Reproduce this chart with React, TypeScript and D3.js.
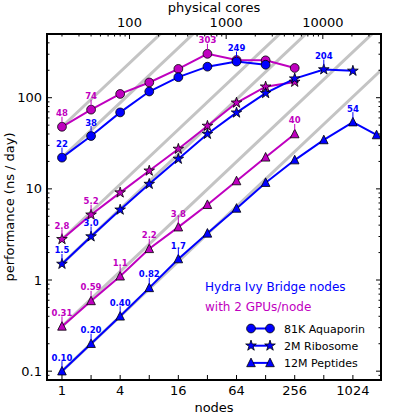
import React from "react";
import * as d3 from "d3";

// ---------- data ----------
const aqBlueNodes = [1, 2, 4, 8, 16, 32, 64, 128];
const aqBlueVals = [22, 38, 69, 117, 168, 219, 249, 230];
const aqMagNodes = [1, 2, 4, 8, 16, 32, 64, 128, 256];
const aqMagVals = [48, 74, 110, 147, 207, 303, 259, 257, 212];

const ribBlueNodes = [1, 2, 4, 8, 16, 32, 64, 128, 256, 512, 1024];
const ribBlueVals = [1.5, 3.0, 5.9, 11.3, 21.3, 40, 68.5, 112, 162, 204, 197];
const ribMagNodes = [1, 2, 4, 8, 16, 32, 64, 128, 256];
const ribMagVals = [2.8, 5.2, 9.1, 15.8, 27.4, 49, 88, 132, 149];

const pepBlueNodes = [1, 2, 4, 8, 16, 32, 64, 128, 256, 512, 1024, 1800];
const pepBlueVals = [0.1, 0.2, 0.4, 0.82, 1.7, 3.25, 6.1, 11.7, 20.7, 34.4, 54, 39];
const pepMagNodes = [1, 2, 4, 8, 16, 32, 64, 128, 256];
const pepMagVals = [0.31, 0.59, 1.1, 2.2, 3.8, 6.7, 12.2, 22.2, 40];

// annotated points: node index -> label text
const aqBlueLabels = [[0, "22"], [1, "38"], [6, "249"]];
const aqMagLabels = [[0, "48"], [1, "74"], [5, "303"]];
const ribBlueLabels = [[0, "1.5"], [1, "3.0"], [9, "204"]];
const ribMagLabels = [[0, "2.8"], [1, "5.2"]];
const pepBlueLabels = [[0, "0.10"], [1, "0.20"], [2, "0.40"], [3, "0.82"], [4, "1.7"], [10, "54"]];
const pepMagLabels = [[0, "0.31"], [1, "0.59"], [2, "1.1"], [3, "2.2"], [4, "3.8"], [8, "40"]];

const xTickVals = [1, 2, 4, 8, 16, 32, 64, 128, 256, 512, 1024];
const xTickLabels = ["1", "", "4", "", "16", "", "64", "", "256", "", "1024"];
const yTickVals = [0.1, 1, 10, 100];
const yTickLabels = ["0.1", "1", "10", "100"];
const topTickVals = [100, 1000, 10000];
const topTickLabels = ["100", "1000", "10000"];
const coresPerNode = 20;

const legendNames = ["81K Aquaporin", "2M Ribosome", "12M Peptides"];

const BLUE = "#0000ff";
const MAG = "#bf00bf";
const FONT = "DejaVu Sans";

// ---------- layout ----------
const L = 47, R = 381, T = 34, B = 380;
const x = d3.scaleLog().base(2).domain([0.7, 2000]).range([L, R]);
const y = d3.scaleLog().domain([0.08, 500]).range([B, T]);
const xTop = d3.scaleLog().domain([0.7 * coresPerNode, 2000 * coresPerNode]).range([L, R]);

function starPath(r: number) {
  const ri = r * 0.381966;
  const pts: [number, number][] = [];
  for (let i = 0; i < 10; i++) {
    const a = -Math.PI / 2 + (i * Math.PI) / 5;
    const rr = i % 2 === 0 ? r : ri;
    pts.push([rr * Math.cos(a), rr * Math.sin(a)]);
  }
  return "M" + pts.map((p) => p.join(",")).join("L") + "Z";
}
const triPath = (h: number) => `M0,${-h}L${-h},${h}L${h},${h}Z`;

function Marker({ kind, cx, cy, fill }: { kind: string; cx: number; cy: number; fill: string }) {
  if (kind === "circle")
    return <circle cx={cx} cy={cy} r={4.4} fill={fill} stroke="#000" strokeWidth={0.8} />;
  if (kind === "star")
    return <path d={starPath(5.6)} transform={`translate(${cx},${cy})`} fill={fill} stroke="#000" strokeWidth={0.8} />;
  return <path d={triPath(4.3)} transform={`translate(${cx},${cy - 0.5})`} fill={fill} stroke="#000" strokeWidth={0.8} />;
}

const series = [
  { nodes: aqMagNodes, vals: aqMagVals, color: MAG, kind: "circle", labels: aqMagLabels },
  { nodes: aqBlueNodes, vals: aqBlueVals, color: BLUE, kind: "circle", labels: aqBlueLabels },
  { nodes: ribMagNodes, vals: ribMagVals, color: MAG, kind: "star", labels: ribMagLabels },
  { nodes: ribBlueNodes, vals: ribBlueVals, color: BLUE, kind: "star", labels: ribBlueLabels },
  { nodes: pepMagNodes, vals: pepMagVals, color: MAG, kind: "tri", labels: pepMagLabels },
  { nodes: pepBlueNodes, vals: pepBlueVals, color: BLUE, kind: "tri", labels: pepBlueLabels },
];

function minorTicks(lo: number, hi: number, base: number) {
  const out: number[] = [];
  for (let e = Math.floor(Math.log10(lo)); e <= Math.ceil(Math.log10(hi)); e++) {
    for (let m = 2; m < base; m++) {
      const v = m * Math.pow(10, e);
      if (v > lo && v < hi) out.push(v);
    }
  }
  return out;
}

export default function App() {
  const line = d3
    .line<[number, number]>()
    .x((d) => x(d[0]))
    .y((d) => y(d[1]));
  const yMinor = minorTicks(0.08, 500, 10);
  const topMinor = minorTicks(14, 40000, 10);

  return (
    <svg width={415} height={415} style={{ position: "absolute", left: 0, top: 0, background: "#fff" }} fontFamily={FONT}>
      <defs>
        <clipPath id="plotclip">
          <rect x={L} y={T} width={R - L} height={B - T} />
        </clipPath>
      </defs>

      <g clipPath="url(#plotclip)">
        {/* ideal scaling lines */}
        {series.map((s, i) => (
          <path
            key={"ideal" + i}
            d={line([
              [s.nodes[0], s.vals[0]],
              [4000, (s.vals[0] * 4000) / s.nodes[0]],
            ]) as string}
            stroke="#c4c4c4"
            strokeWidth={3}
            fill="none"
          />
        ))}
        {series.map((s, i) => (
          <path
            key={"l" + i}
            d={line(s.nodes.map((n, j) => [n, s.vals[j]] as [number, number])) as string}
            stroke={s.color}
            strokeWidth={2}
            fill="none"
          />
        ))}
        {series.map((s, i) =>
          s.nodes.map((n, j) => (
            <Marker key={`m${i}-${j}`} kind={s.kind} cx={x(n)} cy={y(s.vals[j])} fill={s.color} />
          ))
        )}
      </g>

      {/* annotations */}
      {series.map((s, i) =>
        s.labels.map(([idx, txt]) => {
          const px = x(s.nodes[idx as number]);
          const py = y(s.vals[idx as number]);
          return (
            <g key={`a${i}-${idx}`}>
              <line x1={px} x2={px} y1={py - 4} y2={py - 10} stroke={s.color} strokeWidth={1} />
              <text x={px} y={py - 10.5} textAnchor="middle" fontSize={8.5} fontWeight="bold" fill={s.color}>
                {txt}
              </text>
            </g>
          );
        })
      )}

      {/* frame */}
      <rect x={L} y={T} width={R - L} height={B - T} fill="none" stroke="#000" strokeWidth={2} />

      {/* bottom ticks */}
      {xTickVals.map((v, i) => (
        <g key={"xt" + i}>
          <line x1={x(v)} x2={x(v)} y1={B} y2={B - 5} stroke="#000" strokeWidth={1} />
          <text x={x(v)} y={B + 15} textAnchor="middle" fontSize={13}>
            {xTickLabels[i]}
          </text>
        </g>
      ))}
      {/* top ticks */}
      {topTickVals.map((v, i) => (
        <g key={"tt" + i}>
          <line x1={xTop(v)} x2={xTop(v)} y1={T} y2={T + 5} stroke="#000" strokeWidth={1} />
          <text x={xTop(v)} y={T - 7} textAnchor="middle" fontSize={13}>
            {topTickLabels[i]}
          </text>
        </g>
      ))}
      {topMinor.map((v, i) => (
        <line key={"tm" + i} x1={xTop(v)} x2={xTop(v)} y1={T} y2={T + 2.5} stroke="#000" strokeWidth={1} />
      ))}
      {/* y ticks */}
      {yTickVals.map((v, i) => (
        <g key={"yt" + i}>
          <line x1={L} x2={L + 5} y1={y(v)} y2={y(v)} stroke="#000" strokeWidth={1} />
          <line x1={R} x2={R - 5} y1={y(v)} y2={y(v)} stroke="#000" strokeWidth={1} />
          <text x={L - 5} y={y(v) + 4.5} textAnchor="end" fontSize={13}>
            {yTickLabels[i]}
          </text>
        </g>
      ))}
      {yMinor.map((v, i) => (
        <g key={"ym" + i}>
          <line x1={L} x2={L + 2.5} y1={y(v)} y2={y(v)} stroke="#000" strokeWidth={1} />
          <line x1={R} x2={R - 2.5} y1={y(v)} y2={y(v)} stroke="#000" strokeWidth={1} />
        </g>
      ))}

      {/* axis titles */}
      <text x={(L + R) / 2} y={412} textAnchor="middle" fontSize={13}>
        nodes
      </text>
      <text x={(L + R) / 2} y={12} textAnchor="middle" fontSize={13}>
        physical cores
      </text>
      <text transform={`translate(14,${(T + B) / 2}) rotate(-90)`} textAnchor="middle" fontSize={13}>
        performance (ns / day)
      </text>

      {/* legend */}
      <text x={205} y={291} fontSize={12} fill={BLUE}>
        Hydra Ivy Bridge nodes
      </text>
      <text x={205} y={311} fontSize={12} fill={MAG}>
        with 2 GPUs/node
      </text>
      {["circle", "star", "tri"].map((k, i) => {
        const ly = 328.5 + i * 17.2;
        return (
          <g key={"lg" + i}>
            <line x1={251} x2={270} y1={ly} y2={ly} stroke={BLUE} strokeWidth={2} />
            <Marker kind={k} cx={251} cy={ly} fill={BLUE} />
            <Marker kind={k} cx={270} cy={ly} fill={BLUE} />
            <text x={284} y={ly + 4} fontSize={11}>
              {legendNames[i]}
            </text>
          </g>
        );
      })}
    </svg>
  );
}
